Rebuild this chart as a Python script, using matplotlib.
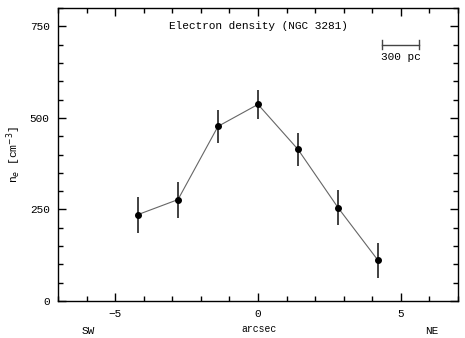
import numpy as np
import matplotlib.pyplot as plt
from matplotlib.ticker import MultipleLocator

# position along slit (arcsec) and electron density
arcsec = [-4.2, -2.8, -1.4, 0.0, 1.4, 2.8, 4.2]
ne = [236, 277, 477, 537, 414, 255, 111]
ne_err = [49, 49, 45, 40, 45, 47, 48]

title = "Electron density (NGC 3281)"
scale_label = "300 pc"
scale_x = [4.35, 5.63]
scale_y = 700

plt.rcParams['font.family'] = ['Liberation Mono', 'DejaVu Sans Mono']

fig = plt.figure(figsize=(4.65, 3.38), dpi=100)
ax = fig.add_axes([0.1247, 0.1095, 0.8603, 0.8665])

ax.plot(arcsec, ne, color='#666666', linewidth=0.8, zorder=2)
ax.errorbar(arcsec, ne, yerr=ne_err, fmt='o', color='black', ecolor='#333333',
            markersize=4, elinewidth=1.3, capsize=0, zorder=3)

ax.set_xlim(-7, 7)
ax.set_ylim(0, 800)
ax.xaxis.set_major_locator(MultipleLocator(5))
ax.xaxis.set_minor_locator(MultipleLocator(1))
ax.yaxis.set_major_locator(MultipleLocator(250))
ax.yaxis.set_minor_locator(MultipleLocator(50))
ax.tick_params(which='both', direction='in', top=True, right=True,
               labelsize=8, width=1, pad=6)
ax.tick_params(which='major', length=6)
ax.tick_params(which='minor', length=3.5)
for s in ax.spines.values():
    s.set_linewidth(1)

ax.set_xticks([-5, 0, 5])
ax.set_xticklabels(['\u22125', '0', '5'])

ax.text(0, 752, title, ha='center', va='center', fontsize=8)

# scale bar
ax.plot(scale_x, [scale_y, scale_y], color='#444444', linewidth=1)
for xx in scale_x:
    ax.plot([xx, xx], [scale_y - 12, scale_y + 12], color='#444444', linewidth=1)
ax.text(np.mean(scale_x), scale_y - 33, scale_label, ha='center', va='center', fontsize=8)

fig.text(14 / 465, 1 - 155 / 338, 'n$_e$ [cm$^{-3}$]', rotation=90,
         ha='center', va='center', fontsize=8)
fig.text(259 / 465, 1 - 329 / 338, 'arcsec', ha='center', va='center', fontsize=7)
fig.text(88 / 465, 1 - 331 / 338, 'SW', ha='center', va='center', fontsize=8)
fig.text(432 / 465, 1 - 331 / 338, 'NE', ha='center', va='center', fontsize=8)

fig.savefig('out.png', dpi=100)
